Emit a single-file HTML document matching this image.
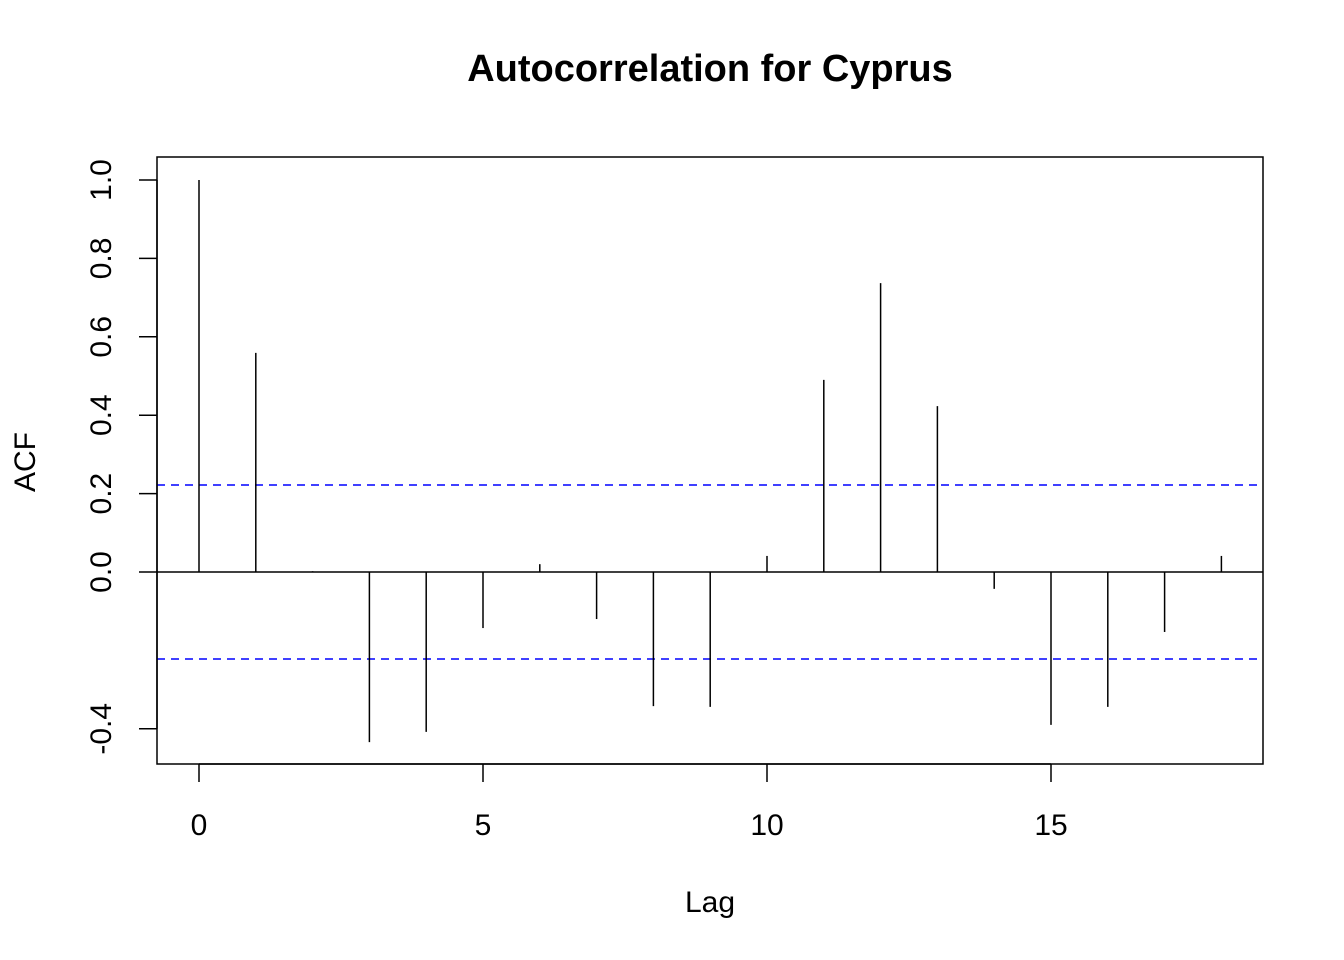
<!DOCTYPE html>
<html><head><meta charset="utf-8"><style>
html,body{margin:0;padding:0;background:#fff;}
svg{display:block;font-family:"Liberation Sans",Arial,sans-serif;}
</style></head><body>
<svg id="chart" width="1344" height="960" viewBox="0 0 1344 960">
<text x="710" y="81" text-anchor="middle" font-size="38" font-weight="bold">Autocorrelation for Cyprus</text>
<rect x="157" y="157" width="1106" height="607" fill="none" stroke="#000" stroke-width="1.5"/>
<text x="710" y="912" text-anchor="middle" font-size="30">Lag</text>
<text transform="translate(35,462) rotate(-90)" text-anchor="middle" font-size="30">ACF</text>
<g id="marks"></g>
</svg>
<script>
const lags=[0,1,2,3,4,5,6,7,8,9,10,11,12,13,14,15,16,17,18];
const acfValues=[1.0,0.559,0.002,-0.434,-0.408,-0.143,0.02,-0.12,-0.342,-0.344,0.041,0.49,0.737,0.423,-0.043,-0.39,-0.344,-0.153,0.041];
const ciBound=0.222;
const xTicks=[0,5,10,15];
const yTicks=[-0.4,0.0,0.2,0.4,0.6,0.8,1.0];
const yTickLabels=["-0.4","0.0","0.2","0.4","0.6","0.8","1.0"];
const ns="http://www.w3.org/2000/svg";
const X=v=>199+v*56.8;
const Y=v=>572-v*392;
const g=document.getElementById('marks');
function mk(tag,attrs,parent){const e=document.createElementNS(ns,tag);for(const k in attrs)e.setAttribute(k,attrs[k]);(parent||g).appendChild(e);return e;}
let z=mk('line',{x1:157,x2:1263,y1:Y(0),y2:Y(0),stroke:'#000','stroke-width':1.5});


[ciBound,-ciBound].forEach((c,i)=>{
 const l=mk('line',{x1:157,x2:1263,y1:Y(c),y2:Y(c),stroke:'#0000ff','stroke-width':1.5,'stroke-dasharray':'8,6'});
 
 
});
lags.forEach((lag,i)=>{
 const l=mk('line',{x1:X(lag),x2:X(lag),y1:Y(0),y2:Y(acfValues[i]),stroke:'#000','stroke-width':1.5});
 
 
});
const xa=mk('line',{x1:X(xTicks[0]),x2:X(xTicks[xTicks.length-1]),y1:764,y2:764,stroke:'#000','stroke-width':1.5});


xTicks.forEach(t=>{
 const tk=mk('line',{x1:X(t),x2:X(t),y1:764,y2:782,stroke:'#000','stroke-width':1.5});
 
 
 const tx=mk('text',{x:X(t),y:835,'text-anchor':'middle','font-size':30});
 tx.textContent=t;
 
 
});
const ya=mk('line',{x1:157,x2:157,y1:Y(yTicks[0]),y2:Y(yTicks[yTicks.length-1]),stroke:'#000','stroke-width':1.5});


yTicks.forEach((t,i)=>{
 const tk=mk('line',{x1:139,x2:157,y1:Y(t),y2:Y(t),stroke:'#000','stroke-width':1.5});
 
 
 const tx=mk('text',{transform:`translate(111,${Y(t)}) rotate(-90)`,'text-anchor':'middle','font-size':30});
 tx.textContent=yTickLabels[i];
 
 
});
</script>
</body></html>
